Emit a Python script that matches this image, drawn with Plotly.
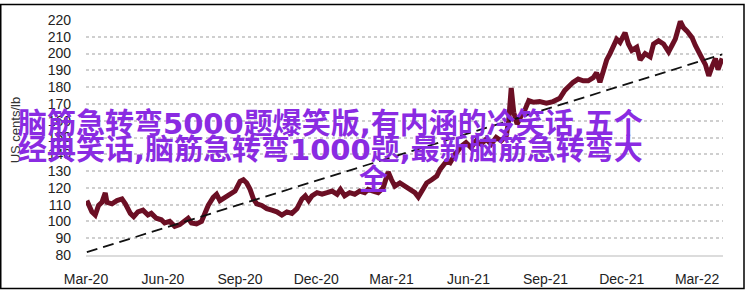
import plotly.graph_objects as go

# ---- data ----
dates = [
    "2020-03-02", "2020-03-08", "2020-03-12", "2020-03-16", "2020-03-20", "2020-03-24", "2020-03-26",
    "2020-04-01", "2020-04-07", "2020-04-13", "2020-04-17", "2020-04-23", "2020-04-27",
    "2020-05-02", "2020-05-08", "2020-05-14", "2020-05-18", "2020-05-24", "2020-05-30",
    "2020-06-03", "2020-06-09", "2020-06-15", "2020-06-21", "2020-06-27",
    "2020-07-01", "2020-07-05", "2020-07-11", "2020-07-17", "2020-07-21", "2020-07-25", "2020-07-31",
    "2020-08-04", "2020-08-08", "2020-08-14", "2020-08-20", "2020-08-26",
    "2020-09-01", "2020-09-05", "2020-09-09", "2020-09-13", "2020-09-17", "2020-09-21", "2020-09-27",
    "2020-10-03", "2020-10-09", "2020-10-15", "2020-10-21", "2020-10-27",
    "2020-11-02", "2020-11-08", "2020-11-14", "2020-11-18", "2020-11-22", "2020-11-26",
    "2020-12-02", "2020-12-08", "2020-12-14", "2020-12-20", "2020-12-26", "2020-12-30",
    "2021-01-04", "2021-01-10", "2021-01-16", "2021-01-22", "2021-01-28",
    "2021-02-01", "2021-02-07", "2021-02-13", "2021-02-19", "2021-02-23", "2021-02-25",
    "2021-03-01", "2021-03-05", "2021-03-11", "2021-03-17", "2021-03-23", "2021-03-29",
    "2021-04-02", "2021-04-08", "2021-04-12", "2021-04-18", "2021-04-24", "2021-04-28",
    "2021-05-06", "2021-05-10", "2021-05-16", "2021-05-24", "2021-05-29",
    "2021-06-04", "2021-06-10", "2021-06-16", "2021-06-22", "2021-06-28",
    "2021-07-04", "2021-07-10", "2021-07-16", "2021-07-19", "2021-07-22", "2021-07-25", "2021-07-29",
    "2021-08-03", "2021-08-07", "2021-08-12", "2021-08-18", "2021-08-25",
    "2021-09-02", "2021-09-10", "2021-09-18", "2021-09-24", "2021-09-30",
    "2021-10-04", "2021-10-10", "2021-10-16", "2021-10-22", "2021-10-28",
    "2021-11-01", "2021-11-05", "2021-11-09", "2021-11-13", "2021-11-17", "2021-11-21", "2021-11-25", "2021-11-29",
    "2021-12-05", "2021-12-09", "2021-12-13", "2021-12-19", "2021-12-23", "2021-12-29",
    "2022-01-04", "2022-01-08", "2022-01-14", "2022-01-20", "2022-01-26", "2022-01-30",
    "2022-02-03", "2022-02-09", "2022-02-13", "2022-02-17", "2022-02-23", "2022-02-27",
    "2022-03-03", "2022-03-07", "2022-03-11", "2022-03-15", "2022-03-19", "2022-03-23", "2022-03-26", "2022-03-31",
]
price = [
    112.4, 105.7, 103.8, 109.5, 111.4, 117.0, 111.4,
    110.5, 112.4, 113.4, 110.5, 104.8, 102.9,
    105.7, 106.7, 103.8, 104.8, 101.9, 101.0,
    99.1, 100.0, 97.1, 98.1, 100.0,
    101.9, 99.1, 98.5, 100.0, 104.8, 109.5, 114.3,
    116.2, 112.4, 114.3, 116.2, 118.1,
    123.8, 124.8, 122.9, 119.1, 113.4, 110.5, 109.5,
    107.6, 106.7, 105.7, 103.8, 105.7,
    104.8, 107.6, 113.4, 115.3, 112.4, 115.3,
    117.1, 116.2, 117.1, 118.1, 116.2, 119.1,
    115.3, 117.1, 116.2, 118.1, 117.1,
    119.1, 118.1, 117.1, 120.0, 127.6, 129.5,
    124.8, 121.0, 122.9, 121.0, 119.1, 117.1,
    114.5, 119.1, 122.9, 124.8, 127.0, 131.0,
    136.0, 135.0, 140.0, 145.0, 147.0,
    144.0, 148.0, 146.0, 149.0, 146.0,
    150.0, 148.0, 151.0, 160.0, 179.5, 165.0, 158.0,
    163.0, 166.0, 172.0, 171.0, 171.4,
    170.5, 171.4, 173.4, 178.1, 181.0,
    182.9, 184.8, 183.8, 183.8, 185.7,
    188.6, 182.9, 189.5, 196.2, 200.0, 204.8, 208.6, 206.7,
    212.4, 205.7, 201.9, 203.8, 196.2, 200.0,
    198.1, 205.7, 207.6, 205.7, 201.0, 204.8,
    208.6, 219.1, 215.3, 213.4, 209.5, 204.8,
    200.0, 197.1, 193.4, 186.7, 192.4, 197.1, 190.5, 197.1,
]
trend_dates = ["2020-03-02", "2022-03-31"]
trend_vals = [81.7, 199.5]

y_ticks = [80, 90, 100, 110, 120, 130, 140, 150, 160, 170, 180, 190, 200, 210, 220]
x_tick_dates = ["2020-03-01", "2020-06-01", "2020-09-01", "2020-12-01", "2021-03-01",
                "2021-06-01", "2021-09-01", "2021-12-01", "2022-03-01"]
x_tick_labels = ["Mar-20", "Jun-20", "Sep-20", "Dec-20", "Mar-21",
                 "Jun-21", "Sep-21", "Dec-21", "Mar-22"]
y_title = "US cents/lb"
overlay_lines = [
    "脑筋急转弯5000题爆笑版,有内涵的冷笑话,五个",
    "经典笑话,脑筋急转弯1000题,最新脑筋急转弯大",
    "全",
]

# ---- layout geometry (pixels) ----
W, H = 746, 299
ML, MR, MT, MB = 86, 23, 17, 37
PW, PH = W - ML - MR, H - MT - MB


def px(x):
    return (x - ML) / PW


def py(y):
    return (MT + PH - y) / PH


fig = go.Figure()
fig.add_trace(go.Scatter(
    x=dates, y=price, mode="lines",
    line=dict(color="#6b0f24", width=5),
    hoverinfo="skip", showlegend=False,
))
fig.add_trace(go.Scatter(
    x=trend_dates, y=trend_vals, mode="lines",
    line=dict(color="#111111", width=1.8, dash="11px,6px"),
    hoverinfo="skip", showlegend=False,
))

tick_font = dict(family="Liberation Sans, Arial, sans-serif", size=14, color="#222222")

fig.update_layout(
    width=W, height=H,
    margin=dict(l=ML, r=MR, t=MT, b=MB),
    paper_bgcolor="white", plot_bgcolor="white",
    showlegend=False,
    xaxis=dict(
        type="date", range=["2020-03-01", "2022-04-01"],
        tickmode="array", tickvals=x_tick_dates, ticktext=x_tick_labels,
        showgrid=False, zeroline=False,
        showline=True, linecolor="#dcdcdc", linewidth=2,
        ticks="", ticklabelstandoff=10, tickfont=tick_font,
    ),
    yaxis=dict(
        range=[80, 220], tickmode="array", tickvals=y_ticks,
        showgrid=True, gridcolor="#cfcfcf", gridwidth=1.5, griddash="dot",
        zeroline=False, showline=False,
        ticks="", ticklabelstandoff=14, tickfont=tick_font,
    ),
)

annotations = [
    dict(text=y_title, xref="paper", yref="paper", x=px(15), y=py(132),
         textangle=-90, showarrow=False, xanchor="center", yanchor="middle",
         font=dict(family="Liberation Sans, Arial, sans-serif", size=13, color="#333333")),
]
ov_font = dict(family="DejaVu Sans, Noto Sans CJK SC, sans-serif", size=29,
               color="#8a2be2", weight="bold")
ov_pos = [(330, 125), (330, 153), (373, 184)]
for txt, (ox, oy) in zip(overlay_lines, ov_pos):
    annotations.append(dict(text=txt, xref="paper", yref="paper", x=px(ox), y=py(oy),
                            showarrow=False, xanchor="center", yanchor="middle",
                            font=ov_font))
fig.update_layout(annotations=annotations)

fig.add_shape(type="rect", xref="paper", yref="paper",
              x0=px(0.75), x1=px(744), y0=py(297), y1=py(0.75),
              line=dict(color="black", width=1.5), fillcolor="rgba(0,0,0,0)", layer="above")

fig.write_html("out.html")
